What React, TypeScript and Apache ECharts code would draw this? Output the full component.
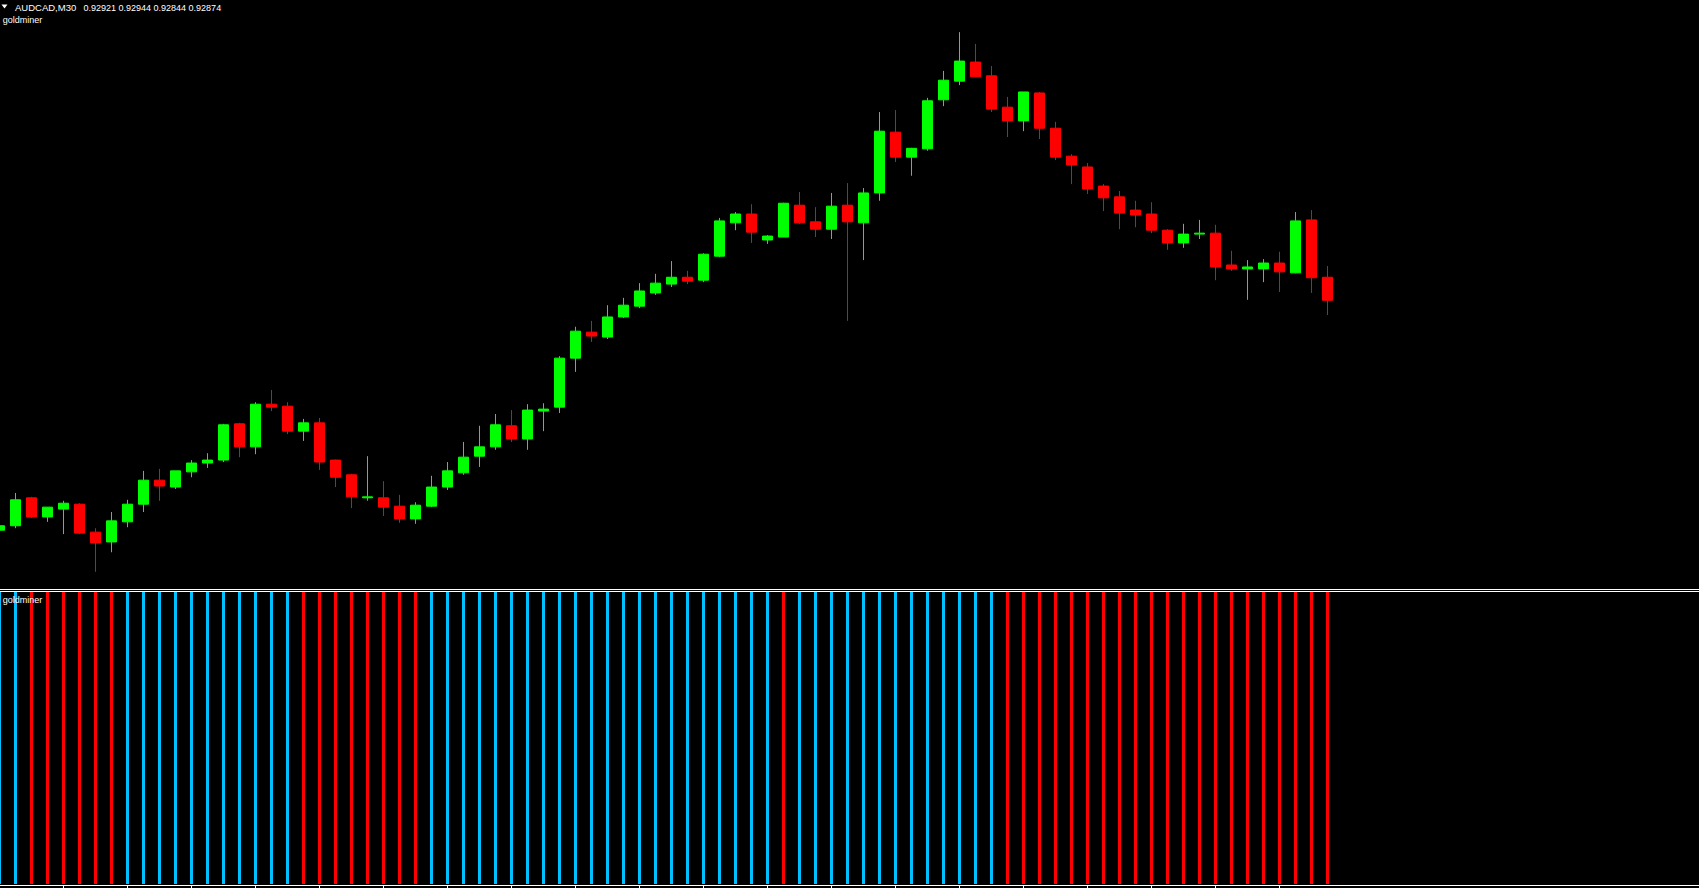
import React, { useEffect, useRef } from "react";
import * as echarts from "echarts";

// ---- header texts ----
const symbolLabel = "AUDCAD,M30";
const lastQuote = ["0.92921", "0.92944", "0.92844", "0.92874"];
const indicatorName = "goldminer";

// ---- AUDCAD M30 candles ----
const opens = [
  0.92405, 0.92414, 0.92471, 0.92432, 0.92448, 0.92458, 0.92401, 0.92381, 0.92422, 0.92458,
  0.92507, 0.92493, 0.92524, 0.92542, 0.92548, 0.92622, 0.92575, 0.92662, 0.92658, 0.92607,
  0.92624, 0.92548, 0.92518, 0.92471, 0.92471, 0.92454, 0.92428, 0.92454, 0.92493, 0.92522,
  0.92556, 0.92575, 0.92618, 0.92591, 0.92648, 0.92656, 0.92756, 0.92809, 0.92799, 0.9284,
  0.92862, 0.92889, 0.92907, 0.92921, 0.92915, 0.92964, 0.93032, 0.9305, 0.92997, 0.93003,
  0.93068, 0.93034, 0.93019, 0.93068, 0.93032, 0.93093, 0.93217, 0.93166, 0.93183, 0.93283,
  0.93321, 0.9336, 0.93332, 0.93268, 0.9324, 0.93297, 0.93225, 0.93168, 0.93146, 0.93107,
  0.93085, 0.93058, 0.9305, 0.93017, 0.92991, 0.93009, 0.93011, 0.92946, 0.92938, 0.92938,
  0.9295, 0.9293, 0.93038, 0.92921,
];
const highs = [
  0.92418, 0.92481, 0.92473, 0.92452, 0.92465, 0.9246, 0.92409, 0.92442, 0.92467, 0.92526,
  0.9253, 0.92526, 0.92548, 0.92562, 0.92622, 0.92624, 0.92666, 0.92691, 0.92666, 0.92632,
  0.92634, 0.92549, 0.9252, 0.92556, 0.92505, 0.92477, 0.92462, 0.92516, 0.92544, 0.92585,
  0.92618, 0.92642, 0.9265, 0.92662, 0.92664, 0.9276, 0.9282, 0.92832, 0.92864, 0.92879,
  0.92909, 0.92928, 0.92954, 0.92934, 0.9297, 0.93042, 0.93054, 0.9307, 0.93007, 0.93073,
  0.93095, 0.93064, 0.93093, 0.93113, 0.93103, 0.93258, 0.93262, 0.93185, 0.93287, 0.93342,
  0.93421, 0.93397, 0.93352, 0.93289, 0.93299, 0.93299, 0.93238, 0.93172, 0.93154, 0.93111,
  0.93097, 0.93077, 0.93074, 0.93019, 0.9303, 0.93038, 0.93028, 0.92975, 0.92956, 0.92958,
  0.92973, 0.93054, 0.93058, 0.92944,
];
const lows = [
  0.92401, 0.92409, 0.9243, 0.92422, 0.92397, 0.92397, 0.9232, 0.9236, 0.92411, 0.92442,
  0.92465, 0.92489, 0.92513, 0.92532, 0.92544, 0.92554, 0.9256, 0.92648, 0.92601, 0.92587,
  0.92528, 0.92493, 0.9245, 0.92465, 0.92434, 0.9242, 0.92418, 0.92452, 0.92487, 0.92518,
  0.92534, 0.92569, 0.92585, 0.92569, 0.92607, 0.92644, 0.92728, 0.92789, 0.92795, 0.92838,
  0.92858, 0.92885, 0.92901, 0.92907, 0.92911, 0.92962, 0.93017, 0.92991, 0.92989, 0.93003,
  0.9303, 0.93003, 0.92999, 0.92832, 0.92956, 0.93077, 0.93156, 0.93128, 0.93179, 0.9327,
  0.93313, 0.93329, 0.93258, 0.93207, 0.93219, 0.93203, 0.9316, 0.93111, 0.93091, 0.93056,
  0.93019, 0.93023, 0.93011, 0.92977, 0.92981, 0.92999, 0.92915, 0.92934, 0.92875, 0.92911,
  0.92891, 0.92929, 0.92889, 0.92844,
];
const closes = [
  0.92414, 0.92467, 0.92432, 0.92452, 0.9246, 0.92399, 0.92379, 0.92424, 0.92458, 0.92507,
  0.92495, 0.92526, 0.92542, 0.92548, 0.9262, 0.92575, 0.92662, 0.92656, 0.92607, 0.92624,
  0.92544, 0.92513, 0.92473, 0.92473, 0.92452, 0.92428, 0.92456, 0.92493, 0.92526, 0.92554,
  0.92575, 0.9262, 0.92591, 0.9265, 0.92652, 0.92756, 0.92811, 0.92801, 0.9284, 0.92864,
  0.92893, 0.92909, 0.92921, 0.92913, 0.92968, 0.93036, 0.9305, 0.93013, 0.93005, 0.93072,
  0.93032, 0.93019, 0.93066, 0.93034, 0.93093, 0.93219, 0.93166, 0.93184, 0.93281, 0.93323,
  0.93362, 0.9333, 0.93264, 0.9324, 0.93299, 0.93225, 0.93166, 0.9315, 0.93101, 0.93083,
  0.93052, 0.93048, 0.93017, 0.92991, 0.93009, 0.93011, 0.92942, 0.92938, 0.92942, 0.9295,
  0.92932, 0.93036, 0.9292, 0.92874,
];

// ---- goldminer histogram: 1 = bullish (blue), -1 = bearish (red) ----
const signals = [
  1, 1, -1, -1, -1, -1, -1, -1, 1, 1,
  1, 1, 1, 1, 1, 1, 1, 1, 1, -1,
  -1, -1, -1, -1, -1, -1, -1, 1, 1, 1,
  1, 1, 1, 1, 1, 1, 1, 1, 1, 1,
  1, 1, 1, 1, 1, 1, 1, 1, 1, -1,
  1, 1, 1, 1, 1, 1, 1, 1, 1, 1,
  1, 1, 1, -1, -1, -1, -1, -1, -1, -1,
  -1, -1, -1, -1, -1, -1, -1, -1, -1, -1,
  -1, -1, -1, -1,
];

const SLOTS = 107; // bar slots across the visible window (data + empty right margin)
const UP = "#00FF00";
const DOWN = "#FF0000";
const BULL = "#00BFFF";
const BEAR = "#FF0000";

export default function App() {
  const ref = useRef<HTMLDivElement>(null);

  useEffect(() => {
    if (!ref.current) return;
    const chart = echarts.init(ref.current, null, { renderer: "svg" });

    const categories = Array.from({ length: SLOTS }, (_, i) => String(i));
    const candleData = opens.map((o, i) => [o, closes[i], lows[i], highs[i]]);
    const histData = signals.map((s) => ({
      value: 1,
      itemStyle: { color: s > 0 ? BULL : BEAR },
    }));

    const font = "Liberation Sans, Arial, sans-serif";

    const option: any = {
      animation: false,
      backgroundColor: "#000000",
      grid: [
        {
          left: -8.5,
          top: 0,
          width: 16 * SLOTS,
          height: 589,
          containLabel: false,
          outerBoundsMode: "none",
        },
        {
          left: -8.5,
          top: 592,
          width: 16 * SLOTS,
          height: 292,
          containLabel: false,
          outerBoundsMode: "none",
        },
      ],
      xAxis: [
        {
          type: "category",
          gridIndex: 0,
          data: categories,
          boundaryGap: true,
          show: false,
        },
        {
          type: "category",
          gridIndex: 1,
          data: categories,
          boundaryGap: true,
          offset: 1,
          axisLine: { show: true, onZero: false, lineStyle: { color: "#ffffff", width: 1 } },
          axisTick: {
            show: true,
            alignWithLabel: true,
            length: 3,
            interval: (idx: number) => idx % 4 === 0 && idx < opens.length,
            lineStyle: { color: "#ffffff", width: 1 },
          },
          axisLabel: { show: false },
          splitLine: { show: false },
        },
      ],
      yAxis: [
        { type: "value", gridIndex: 0, min: 0.92285, max: 0.934866, show: false },
        { type: "value", gridIndex: 1, min: 0, max: 1, show: false },
      ],
      series: [
        {
          type: "candlestick",
          xAxisIndex: 0,
          yAxisIndex: 0,
          data: candleData,
          barWidth: 10,
          itemStyle: {
            color: UP,
            color0: DOWN,
            borderColor: UP,
            borderColor0: DOWN,
            borderWidth: 1,
          },
        },
        {
          type: "bar",
          xAxisIndex: 1,
          yAxisIndex: 1,
          data: histData,
          barWidth: 3,
        },
      ],
      graphic: [
        {
          type: "line",
          z: 100,
          shape: { x1: 0, y1: 589.5, x2: 1699, y2: 589.5 },
          style: { stroke: "#ffffff", lineWidth: 1 },
        },
        {
          type: "line",
          z: 100,
          shape: { x1: 0, y1: 591.5, x2: 1699, y2: 591.5 },
          style: { stroke: "#ffffff", lineWidth: 1 },
        },
        {
          type: "polygon",
          z: 100,
          shape: { points: [[1.5, 4.5], [7.5, 4.5], [4.5, 8.5]] },
          style: { fill: "#ffffff" },
        },
        {
          type: "text",
          z: 100,
          x: 15,
          y: 7.4,
          style: { text: symbolLabel, fill: "#ffffff", font: `9.5px ${font}`, verticalAlign: "middle" },
        },
        {
          type: "text",
          z: 100,
          x: 83.5,
          y: 7.6,
          style: { text: lastQuote.join(" "), fill: "#ffffff", font: `9px ${font}`, verticalAlign: "middle" },
        },
        {
          type: "text",
          z: 100,
          x: 2.7,
          y: 20.2,
          style: { text: indicatorName, fill: "#ffffff", font: `9px ${font}`, verticalAlign: "middle" },
        },
        {
          type: "text",
          z: 100,
          x: 2.7,
          y: 600.2,
          style: { text: indicatorName, fill: "#ffffff", font: `9px ${font}`, verticalAlign: "middle" },
        },
      ],
    };

    chart.setOption(option);
    return () => chart.dispose();
  }, []);

  return (
    <div
      ref={ref}
      style={{
        position: "fixed",
        left: 0,
        top: 0,
        width: 1699,
        height: 888,
        background: "#000000",
      }}
    />
  );
}
